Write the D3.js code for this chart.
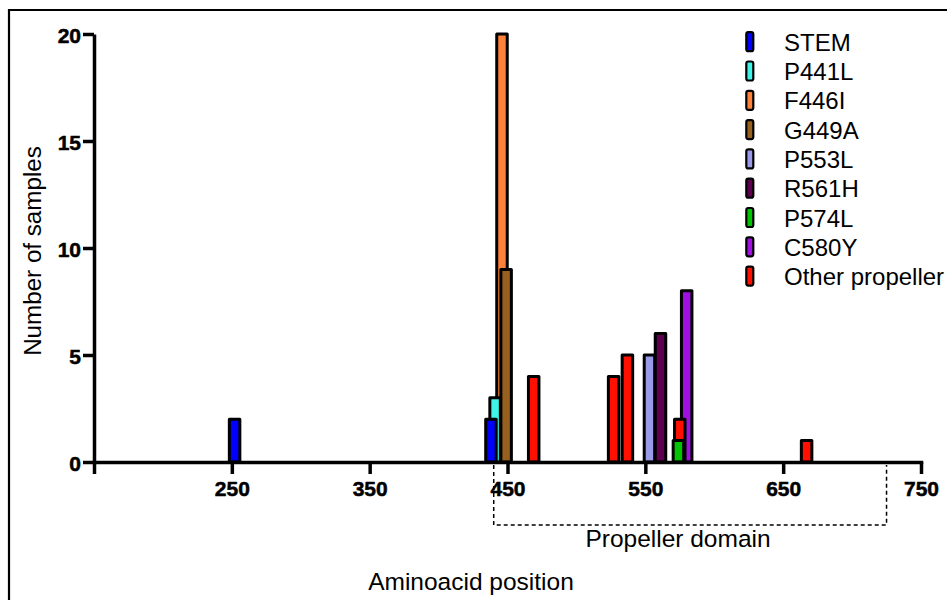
<!DOCTYPE html>
<html>
<head>
<meta charset="utf-8">
<script src="https://cdn.jsdelivr.net/npm/d3@7"></script>
<style>
  html, body { margin: 0; padding: 0; background: #fff; }
  svg { display: block; font-family: "Liberation Sans", Arial, sans-serif; }
</style>
</head>
<body>
<svg id="chart" width="947" height="600"></svg>
<script>
// Mutation series shown in the legend, in legend order
const categories = ["STEM", "P441L", "F446I", "G449A", "P553L", "R561H", "P574L", "C580Y", "Other propeller"];
const seriesColors = ["#0000ff", "#3ff3e6", "#ff8038", "#97601f", "#9a9ae8", "#5e0050", "#00c400", "#a010e0", "#ff1000"];

// One bar per observed position: series index, amino-acid position, sample count
const barSeries    = [0,   0,   1,   2,   3,   8,   8,   8,   4,   5,   8,   6,   7,   8];
const barPositions = [252, 438, 441, 446, 449, 469, 527, 537, 553, 561, 575, 574, 580, 667];
const barCounts    = [2,   2,   3,   20,  9,   4,   4,   5,   5,   6,   2,   1,   8,   1];

// Painting order of the series (later ones sit on top where bars overlap)
const drawOrder = [2, 7, 8, 1, 0, 3, 4, 5, 6];

// Axis ticks and the annotated domain range
const xTicks = [150, 250, 350, 450, 550, 650, 750];
const xTickLabels = ["", "250", "350", "450", "550", "650", "750"];
const yTicks = [0, 5, 10, 15, 20];
const domainRange = [440, 725];
const domainLabel = "Propeller domain";
const xTitle = "Aminoacid position";
const yTitle = "Number of samples";

const svg = d3.select("#chart");
const font = '"Liberation Sans", Arial, sans-serif';

// Outer frame (top and left edges)
svg.append("path")
  .attr("d", "M9,600 L9,10 L947,10")
  .attr("fill", "none").attr("stroke", "#000").attr("stroke-width", 2.2);

const x = d3.scaleLinear().domain([150, 750]).range([94, 921]);
const y = d3.scaleLinear().domain([0, 20]).range([462, 34]);

// Bars
const bars = barPositions.map((p, i) => ({ s: barSeries[i], pos: p, n: barCounts[i] }))
  .sort((a, b) => drawOrder.indexOf(a.s) - drawOrder.indexOf(b.s));
const barW = 10.5;
svg.append("g").selectAll("rect").data(bars).join("rect")
  .attr("x", d => x(d.pos) - barW / 2)
  .attr("y", d => y(d.n))
  .attr("width", barW)
  .attr("height", d => y(0) - y(d.n))
  .attr("fill", d => seriesColors[d.s])
  .attr("stroke", "#000")
  .attr("stroke-width", 3)
  .attr("stroke-linejoin", "round");

// X axis
const xAxis = d3.axisBottom(x).tickValues(xTicks).tickSize(12).tickSizeOuter(0)
  .tickFormat((d, i) => xTickLabels[i]);
const gx = svg.append("g").attr("transform", `translate(0,${y(0)})`).call(xAxis);
gx.select(".domain").attr("stroke-width", 3.5).attr("stroke-linecap", "square");
gx.selectAll(".tick line").attr("stroke-width", 3.5);
gx.selectAll(".tick text")
  .attr("font-family", font).attr("font-size", 21).attr("font-weight", "bold")
  .attr("fill", "#000").attr("stroke", "#000").attr("stroke-width", 0.5)
  .attr("y", 0).attr("dy", null)
  .attr("transform", "translate(0,34)");

// Y axis
const yAxis = d3.axisLeft(y).tickValues(yTicks).tickSize(11).tickSizeOuter(0);
const gy = svg.append("g").attr("transform", `translate(${x(150)},0)`).call(yAxis);
gy.select(".domain").attr("stroke-width", 3.5);
gy.selectAll(".tick line").attr("stroke-width", 3.5);
gy.selectAll(".tick text")
  .attr("font-family", font).attr("font-size", 21).attr("font-weight", "bold")
  .attr("fill", "#000").attr("stroke", "#000").attr("stroke-width", 0.5)
  .attr("x", -13).attr("dy", "0.42em");

// Axis titles
svg.append("text")
  .attr("x", 471).attr("y", 590)
  .attr("text-anchor", "middle")
  .attr("font-family", font).attr("font-size", 24.5)
  .text(xTitle);
svg.append("text")
  .attr("transform", "translate(41,251) rotate(-90)")
  .attr("text-anchor", "middle")
  .attr("font-family", font).attr("font-size", 24.2)
  .text(yTitle);

// Propeller domain bracket
const bx0 = x(domainRange[0]), bx1 = x(domainRange[1]);
svg.append("path")
  .attr("d", `M${bx0},${y(0) + 3} L${bx0},525 L${bx1},525 L${bx1},${y(0) + 3}`)
  .attr("fill", "none").attr("stroke", "#000").attr("stroke-width", 1.5)
  .attr("stroke-dasharray", "4,3");
svg.append("text")
  .attr("x", 678).attr("y", 547)
  .attr("text-anchor", "middle")
  .attr("font-family", font).attr("font-size", 24.5)
  .text(domainLabel);

// Legend
const legend = svg.append("g").selectAll("g").data(categories).join("g")
  .attr("transform", (d, i) => `translate(0,${41.7 + i * 29.3})`);
legend.append("rect")
  .attr("x", 746.3).attr("y", -9.5).attr("width", 7).attr("height", 19).attr("rx", 2)
  .attr("fill", (d, i) => seriesColors[i])
  .attr("stroke", "#000").attr("stroke-width", 2.2);
legend.append("text")
  .attr("x", 784).attr("y", 9)
  .attr("font-family", font).attr("font-size", 24)
  .text(d => d);
</script>
</body>
</html>
